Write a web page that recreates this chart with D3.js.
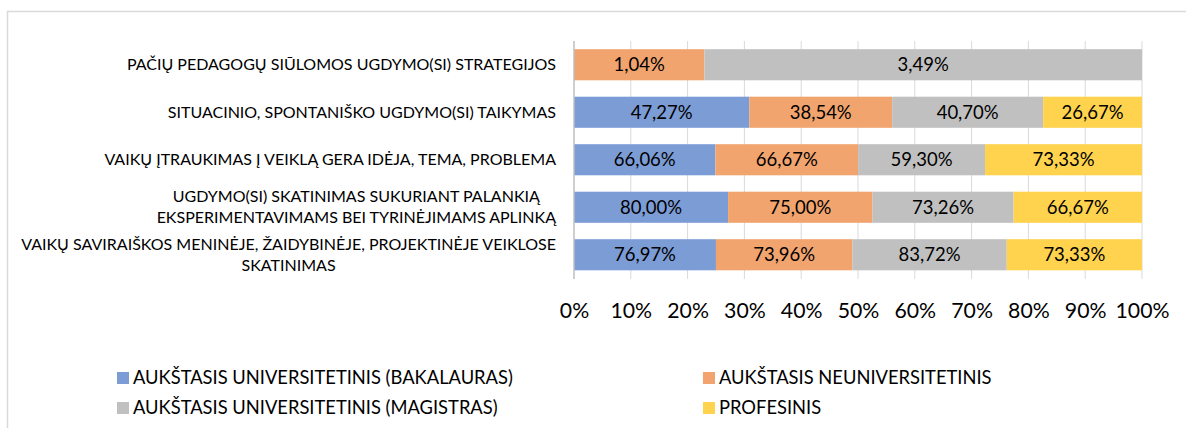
<!DOCTYPE html>
<html>
<head>
<meta charset="utf-8">
<script src="https://cdn.jsdelivr.net/npm/d3@7"></script>
<style>
  html, body { margin: 0; padding: 0; background: #fff; }
  svg { display: block; }
  text { font-family: "Lato", sans-serif; fill: #000; }
</style>
</head>
<body>
<svg id="chart" width="1186" height="428"></svg>
<script>
const categories = [
  "PAČIŲ PEDAGOGŲ SIŪLOMOS UGDYMO(SI) STRATEGIJOS",
  "SITUACINIO, SPONTANIŠKO UGDYMO(SI) TAIKYMAS",
  "VAIKŲ ĮTRAUKIMAS Į VEIKLĄ GERA IDĖJA, TEMA, PROBLEMA",
  "UGDYMO(SI) SKATINIMAS SUKURIANT PALANKIĄ\nEKSPERIMENTAVIMAMS BEI TYRINĖJIMAMS APLINKĄ",
  "VAIKŲ SAVIRAIŠKOS MENINĖJE, ŽAIDYBINĖJE, PROJEKTINĖJE VEIKLOSE\nSKATINIMAS"
];
const seriesNames = [
  "AUKŠTASIS UNIVERSITETINIS (BAKALAURAS)",
  "AUKŠTASIS NEUNIVERSITETINIS",
  "AUKŠTASIS UNIVERSITETINIS (MAGISTRAS)",
  "PROFESINIS"
];
const bakalauras        = [0,    47.27, 66.06, 80.00, 76.97];
const neuniversitetinis = [1.04, 38.54, 66.67, 75.00, 73.96];
const magistras         = [3.49, 40.70, 59.30, 73.26, 83.72];
const profesinis        = [0,    26.67, 73.33, 66.67, 73.33];
const tickValues = [0, 0.1, 0.2, 0.3, 0.4, 0.5, 0.6, 0.7, 0.8, 0.9, 1.0];
const colors = ["#7C9CD6", "#F2A46F", "#C0C0C0", "#FFD34D"];

const seriesValues = [bakalauras, neuniversitetinis, magistras, profesinis];
const rows = categories.map((c, i) => {
  const r = { cat: c };
  seriesNames.forEach((s, j) => r[s] = seriesValues[j][i]);
  return r;
});
const stacked = d3.stack().keys(seriesNames).offset(d3.stackOffsetExpand)(rows);

const svg = d3.select("#chart");
const x = d3.scaleLinear().domain([0, 1]).range([574, 1142]);
const y = d3.scaleBand().domain(categories).range([41, 278.5]).paddingInner(0.345).paddingOuter(0.1725);
const fmt = v => d3.format(".2f")(v).replace(".", ",") + "%";

// chart border (left + top)
svg.append("path").attr("d", "M7.5,428 L7.5,11.5 L1186,11.5")
  .attr("fill", "none").attr("stroke", "#D9D9D9").attr("stroke-width", 1.5);

// gridlines
svg.append("g").selectAll("line").data(tickValues.slice(1)).join("line")
  .attr("x1", d => x(d)).attr("x2", d => x(d))
  .attr("y1", 41).attr("y2", 279)
  .attr("stroke", "#D9D9D9").attr("stroke-width", 1);

// bars
const g = svg.append("g");
stacked.forEach((s, si) => {
  g.append("g").selectAll("rect").data(s).join("rect")
    .attr("x", d => x(d[0]))
    .attr("width", d => x(d[1]) - x(d[0]))
    .attr("y", d => y(d.data.cat))
    .attr("height", y.bandwidth())
    .attr("fill", colors[si]);
});

// vertical axis line
svg.append("line").attr("x1", x(0)).attr("x2", x(0)).attr("y1", 41).attr("y2", 279)
  .attr("stroke", "#BFBFBF").attr("stroke-width", 1.5);

// helper to fit font size to a target width
function fitSize(sample, baseSize, target) {
  const t = svg.append("text").attr("font-size", baseSize).text(sample);
  const w = t.node().getComputedTextLength();
  t.remove();
  return baseSize * target / w;
}

// data labels
const dataSize = fitSize("47,27%", 18, 62);
stacked.forEach((s, si) => {
  g.append("g").selectAll("text").data(s.filter(d => d.data[s.key] > 0)).join("text")
    .attr("x", d => (x(d[0]) + x(d[1])) / 2)
    .attr("y", d => y(d.data.cat) + y.bandwidth() / 2)
    .attr("dy", "0.36em")
    .attr("text-anchor", "middle")
    .attr("font-size", dataSize)
    .text(d => fmt(d.data[s.key]));
});

// x axis tick labels
const tickSize = fitSize("100%", 20, 54);
const xAxis = d3.axisBottom(x).tickValues(tickValues).tickFormat(d3.format(".0%")).tickSize(0).tickPadding(0);
const ax = svg.append("g").attr("transform", "translate(0,302.5)").call(xAxis);
ax.select(".domain").remove();
ax.attr("font-family", null);
ax.selectAll("text").attr("font-size", tickSize).attr("fill", "#000").attr("dy", "0.71em");

// category labels
const catSize = fitSize(categories[0] + categories[4].split("\n")[0], 16, 437 + 528);
const lineH = 21;
categories.forEach(c => {
  const lines = c.split("\n");
  const t = svg.append("text").attr("font-size", catSize).attr("text-anchor", "middle");
  lines.forEach((ln, i) => {
    t.append("tspan").attr("x", 0)
      .attr("y", y(c) + y.bandwidth() / 2 + (i - (lines.length - 1) / 2) * lineH)
      .attr("dy", "0.35em").text(ln);
  });
  const w = d3.max(t.selectAll("tspan").nodes(), n => n.getComputedTextLength());
  t.selectAll("tspan").attr("x", 556 - w / 2);
});

// legend
const legSize = fitSize(seriesNames[0], 16, 380);
const legPos = [[117, 378], [703, 378], [117, 408], [703, 408]];
const leg = svg.append("g").selectAll("g").data(seriesNames).join("g")
  .attr("transform", (d, i) => `translate(${legPos[i][0]},${legPos[i][1]})`);
leg.append("rect").attr("x", 0).attr("y", -6).attr("width", 12).attr("height", 12)
  .attr("fill", (d, i) => colors[i]);
leg.append("text").attr("x", 16).attr("y", 0).attr("dy", "0.35em")
  .attr("font-size", legSize).text(d => d);
</script>
</body>
</html>
